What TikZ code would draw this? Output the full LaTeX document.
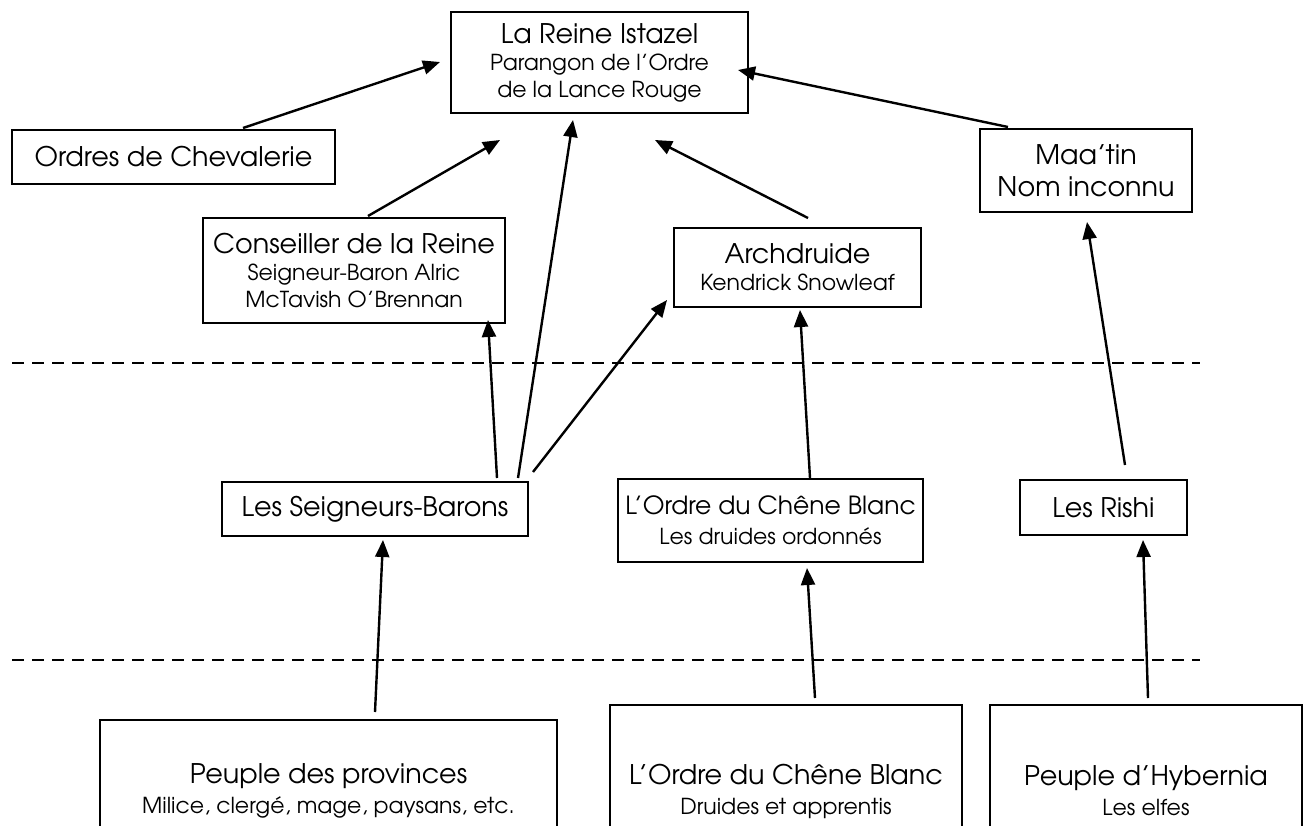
\documentclass[tikz,border=0pt]{standalone}
\usepackage{fontspec}
\setmainfont{TeX Gyre Adventor}
\usetikzlibrary{arrows.meta}
\newcommand\mainf{\fontsize{27}{32}\selectfont}
\newcommand\mainsm{\fontsize{25}{30}\selectfont}
\newcommand\subf{\fontsize{22}{27}\selectfont}
\begin{document}
\begin{tikzpicture}[x=1pt,y=-1pt,
  box/.style={draw, line width=2.4pt, rectangle, align=center, inner sep=0pt, font=\subf},
  arr/.style={line width=2.4pt, -{Triangle[length=17pt,width=14pt]}},
  sep/.style={line width=2pt, dash pattern=on 12pt off 8pt}]
\useasboundingbox (0,0) rectangle (1309,825);
\clip (0,0) rectangle (1309,825);

\node[box, minimum width=297pt, minimum height=101pt] (reine) at (599.5,62.5)
  {{\mainf La Reine Istazel}\\ Parangon de l’Ordre\\ de la Lance Rouge};
\node[box, minimum width=323pt, minimum height=54pt] (ordres) at (173.5,157)
  {\mainf Ordres de Chevalerie};
\node[box, minimum width=302pt, minimum height=105pt] (conseil) at (354,270.5)
  {{\mainf Conseiller de la Reine}\\ Seigneur-Baron Alric\\ McTavish O’Brennan};
\node[box, minimum width=247pt, minimum height=79pt] (arch) at (797.5,267.5)
  {{\mainf Archdruide}\\ Kendrick Snowleaf};
\node[box, minimum width=212pt, minimum height=83pt] (maatin) at (1086,170.5)
  {{\mainf Maa’tin}\\[5pt] {\mainf Nom inconnu}};
\node[box, minimum width=306pt, minimum height=54pt] (seign) at (375,509)
  {\mainf Les Seigneurs-Barons};
\node[box, minimum width=305pt, minimum height=83pt] (chene1) at (770.5,520.5)
  {{\mainsm L’Ordre du Chêne Blanc}\\[3pt] Les druides ordonnés};
\node[box, minimum width=167pt, minimum height=55pt] (rishi) at (1103.5,507.5)
  {\mainf Les Rishi};
\node[box, minimum width=457pt, minimum height=142pt] (peuple) at (328.5,791)
  {{\mainf Peuple des provinces}\\[3pt] Milice, clergé, mage, paysans, etc.};
\node[box, minimum width=352pt, minimum height=172pt] (chene2) at (786,791)
  {{\mainf L’Ordre du Chêne Blanc}\\[3pt] Druides et apprentis};
\node[box, minimum width=312pt, minimum height=172pt] (hyb) at (1146,791)
  {{\mainf Peuple d’Hybernia}\\[3pt] Les elfes};

\draw[sep] (12,363) -- (1200,363);
\draw[sep] (12,660) -- (1200,660);

\draw[arr] ([shift={(69.5,-29)}]ordres.center) -- ([shift={(-159.5,-0.5)}]reine.center);
\draw[arr] ([shift={(14,-54.5)}]conseil.center) -- ([shift={(-99.5,77.5)}]reine.center);
\draw[arr] ([shift={(143,-31)}]seign.center) -- ([shift={(-26.5,57.5)}]reine.center);
\draw[arr] ([shift={(10.5,-49.5)}]arch.center) -- ([shift={(55.5,77.5)}]reine.center);
\draw[arr] ([shift={(-78,-43.5)}]maatin.center) -- ([shift={(138.5,7.5)}]reine.center);
\draw[arr] ([shift={(122,-31)}]seign.center) -- ([shift={(134,49.5)}]conseil.center);
\draw[arr] ([shift={(158,-37)}]seign.center) -- ([shift={(-130.5,32.5)}]arch.center);
\draw[arr] ([shift={(39.5,-42.5)}]chene1.center) -- ([shift={(2.5,42.5)}]arch.center);
\draw[arr] ([shift={(21.5,-42.5)}]rishi.center) -- ([shift={(1,51.5)}]maatin.center);
\draw[arr] ([shift={(46.5,-79)}]peuple.center) -- ([shift={(8,31)}]seign.center);
\draw[arr] ([shift={(29,-93)}]chene2.center) -- ([shift={(36.5,47.5)}]chene1.center);
\draw[arr] ([shift={(2,-93)}]hyb.center) -- ([shift={(39.5,32.5)}]rishi.center);
\end{tikzpicture}
\end{document}
